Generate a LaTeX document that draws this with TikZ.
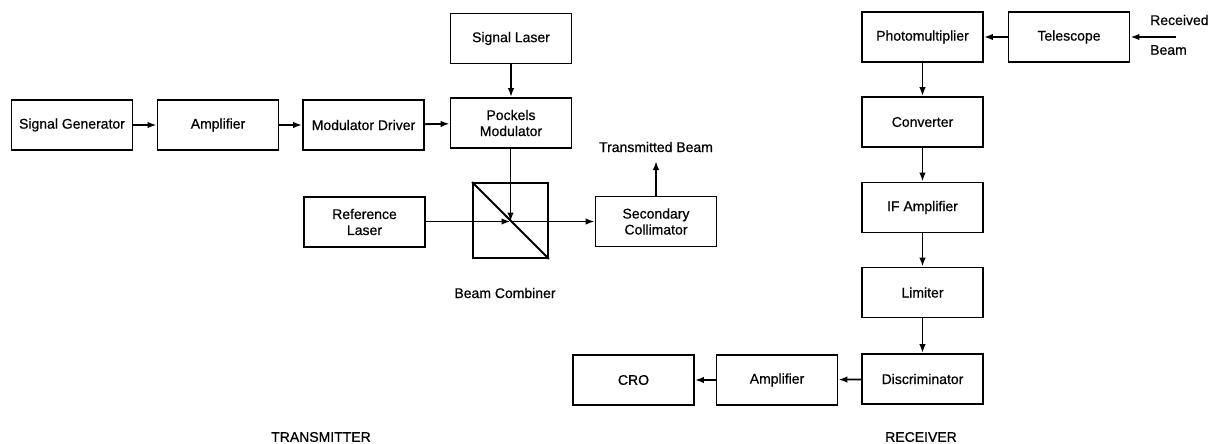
\documentclass[tikz,border=0pt]{standalone}
\usepackage{fontspec}
\setmainfont{Liberation Sans}[FakeBold=0.6]
\usetikzlibrary{arrows.meta}
\begin{document}
\begin{tikzpicture}[x=1pt,y=-1pt,
  blk/.style={draw, line width=1.8pt, minimum width=121pt, minimum height=50pt, inner sep=0pt, align=center, font=\fontsize{14}{16}\selectfont},
  lbl/.style={inner sep=0pt, align=left, font=\fontsize{14}{16}\selectfont},
  flow/.style={line width=1.8pt, -{Latex[length=9pt,width=6.5pt]}},
  plain/.style={line width=1.8pt},
]
\useasboundingbox (0,0) rectangle (1211,444);
% ---------- transmitter ----------
\node[blk] (sg)  at (72,125)    {Signal Generator};
\node[blk] (amp) at (218,125)   {Amplifier};
\node[blk] (md)  at (363.5,125) {Modulator Driver};
\node[blk] (pm)  at (511,123)   {Pockels\\Modulator};
\node[blk] (sl)  at (511,38.5)  {Signal Laser};
\node[blk] (rl)  at (364.5,222) {Reference\\Laser};
\node[draw, line width=1.8pt, minimum width=75pt, minimum height=75pt, inner sep=0pt] (bc) at (510.5,220.5) {};
\coordinate (bcc) at (510.5,221.5);
\node[blk] (sc)  at (656,221.5) {Secondary\\Collimator};
\node[lbl] (tb)  at (656,147)   {Transmitted Beam};
\node[lbl] (bcl) at (505,293)   {Beam Combiner};
\node[lbl] (tx)  at (321,437)   {TRANSMITTER};

\draw[flow] (sg) -- (amp);
\draw[flow] (amp) -- (md);
\draw[flow] (md) -- (pm);
\draw[flow] (sl) -- (pm);
\draw[plain] (bc.north west) -- (bc.south east);
\draw[flow] (pm.south -| bcc) -- (bcc);
\draw[flow] (rl.east |- bcc) -- (bcc);
\draw[flow] (bcc) -- (sc.west |- bcc);
\coordinate (tbend) at (656,161);
\draw[flow] (sc.north) -- (tbend);

% ---------- receiver ----------
\node[blk] (ph)   at (922.5,37)  {Photomultiplier};
\node[blk] (tel)  at (1069,37)   {Telescope};
\node[lbl, anchor=west] (rb1) at (1150,20) {Received};
\node[lbl, anchor=west] (rb2) at (1150,50) {Beam};
\coordinate (rbs) at (1176,37);
\node[blk] (conv) at (922.5,122) {Converter};
\node[blk] (ifa)  at (922.5,207.5) {IF Amplifier};
\node[blk] (lim)  at (922.5,292.5) {Limiter};
\node[blk] (disc) at (922.5,379) {Discriminator};
\node[blk] (amp2) at (777,380)   {Amplifier};
\node[blk] (cro)  at (633.5,380) {CRO};
\node[lbl] (rx)   at (921,437)   {RECEIVER};

\draw[flow] (rbs) -- (tel.east |- rbs);
\draw[flow] (tel) -- (ph);
\draw[flow] (ph) -- (conv);
\draw[flow] (conv) -- (ifa);
\draw[flow] (ifa) -- (lim);
\draw[flow] (lim) -- (disc);
\draw[flow] (disc) -- (amp2);
\draw[flow] (amp2) -- (cro);
\end{tikzpicture}
\end{document}
